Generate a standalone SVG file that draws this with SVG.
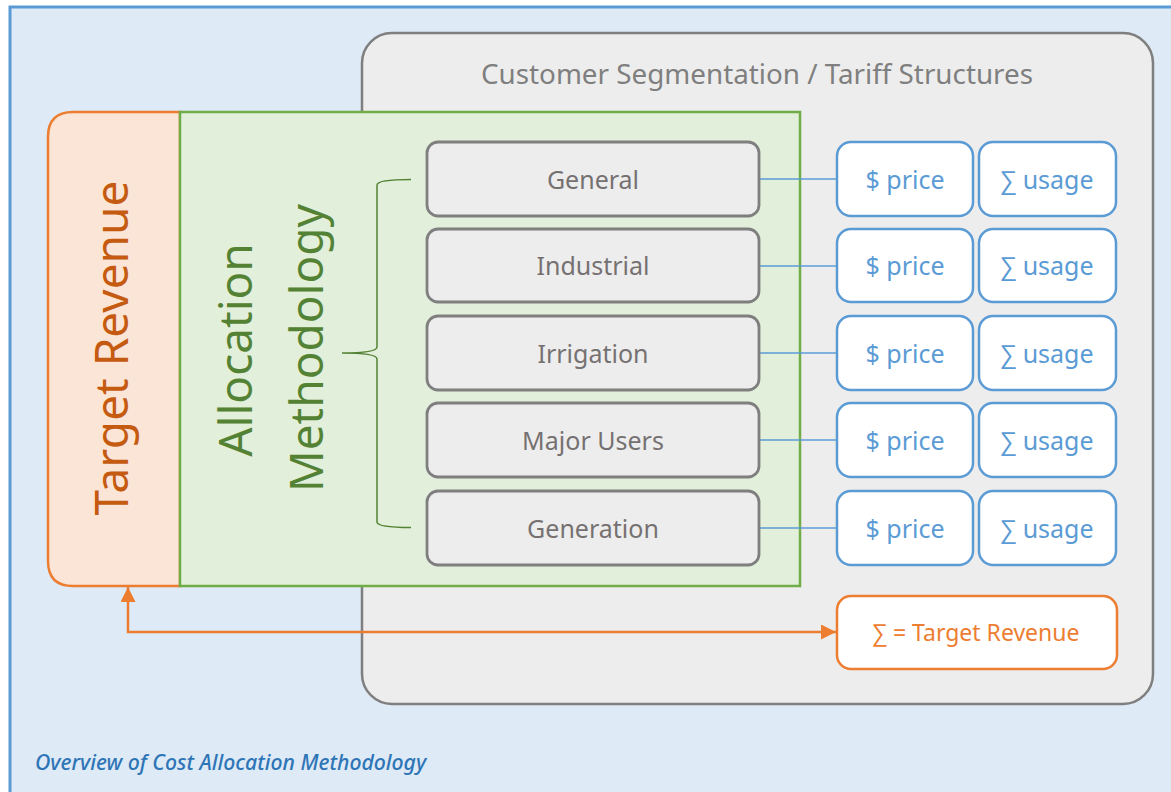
<svg xmlns="http://www.w3.org/2000/svg" width="1171" height="792" viewBox="0 0 1171 792">
<defs>
<style>
.t{font-family:"Noto Sans","Open Sans","Liberation Sans",sans-serif}
.seg{fill:#EDEDED;stroke:#7F7F7F;stroke-width:2.8}
.segt{fill:#767171;font-size:25px;text-anchor:middle}
.bl{fill:#FFFFFF;stroke:#5B9BD5;stroke-width:2.5}
.blt{fill:#5B9BD5;font-size:25px;text-anchor:middle}
.con{stroke:#5B9BD5;stroke-width:1.3;fill:none}
</style>
<marker id="ah" viewBox="0 0 10 10" refX="10" refY="5" markerWidth="6" markerHeight="6" markerUnits="strokeWidth" orient="auto-start-reverse">
<path d="M0,0 L10,5 L0,10 z" fill="#ED7D31"/>
</marker>
</defs>
<g id="frame">
<rect x="10" y="7" width="1175" height="800" fill="#DEEAF6" stroke="#5B9BD5" stroke-width="3"/>
</g>
<g id="customer-segmentation">
<rect x="362" y="33" width="791" height="671" rx="30" ry="30" fill="#EDEDED" stroke="#7F7F7F" stroke-width="2.5"/>
<text class="t" x="757" y="84" font-size="27.8" fill="#7F7F7F" text-anchor="middle">Customer Segmentation / Tariff Structures</text>
</g>
<g id="target-revenue">
<path d="M180,112 L73,112 Q48,112 48,137 L48,561 Q48,586 73,586 L180,586 Z" fill="#FBE5D6" stroke="#ED7D31" stroke-width="2.5"/>
<text class="t" transform="translate(128,348) rotate(-90)" font-size="46" fill="#C55A11" text-anchor="middle">Target Revenue</text>
</g>
<g id="allocation-methodology">
<rect x="180" y="112" width="620" height="474" fill="#E2EFDA" stroke="#70AD47" stroke-width="2.5"/>
<text class="t" transform="translate(252,350) rotate(-90)" font-size="46" fill="#548235" text-anchor="middle">Allocation</text>
<text class="t" transform="translate(323,348) rotate(-90)" font-size="46" fill="#548235" text-anchor="middle">Methodology</text>
<path d="M411,179.5 C390,179.5 377,181 377,185 L377,347 C377,351 365,353 342,353 C365,353 377,355 377,359 L377,522 C377,526 390,527.5 411,527.5" fill="none" stroke="#548235" stroke-width="1.5"/>
</g>
<g id="connectors">
<line class="con" x1="759" y1="179" x2="837" y2="179"/>
<line class="con" x1="759" y1="266" x2="837" y2="266"/>
<line class="con" x1="759" y1="353" x2="837" y2="353"/>
<line class="con" x1="759" y1="440" x2="837" y2="440"/>
<line class="con" x1="759" y1="528" x2="837" y2="528"/>
<polyline points="128,587 128,632 836,632" fill="none" stroke="#ED7D31" stroke-width="2.5" marker-start="url(#ah)" marker-end="url(#ah)"/>
</g>
<g id="general">
<rect class="seg" x="427" y="142" width="332" height="74" rx="11"/>
<text class="t segt" x="593" y="189">General</text>
</g>
<g id="industrial">
<rect class="seg" x="427" y="229" width="332" height="73" rx="11"/>
<text class="t segt" x="593" y="275">Industrial</text>
</g>
<g id="irrigation">
<rect class="seg" x="427" y="316" width="332" height="74" rx="11"/>
<text class="t segt" x="593" y="363">Irrigation</text>
</g>
<g id="major-users">
<rect class="seg" x="427" y="403" width="332" height="74" rx="11"/>
<text class="t segt" x="593" y="450">Major Users</text>
</g>
<g id="generation">
<rect class="seg" x="427" y="491" width="332" height="74" rx="11"/>
<text class="t segt" x="593" y="538">Generation</text>
</g>
<g id="price-1"><rect class="bl" x="837" y="142" width="136" height="74" rx="14"/><text class="t blt" x="905" y="189">$ price</text></g>
<g id="usage-1"><rect class="bl" x="979" y="142" width="137" height="74" rx="14"/><text class="t blt" x="1047" y="189">∑ usage</text></g>
<g id="price-2"><rect class="bl" x="837" y="229" width="136" height="73" rx="14"/><text class="t blt" x="905" y="275">$ price</text></g>
<g id="usage-2"><rect class="bl" x="979" y="229" width="137" height="73" rx="14"/><text class="t blt" x="1047" y="275">∑ usage</text></g>
<g id="price-3"><rect class="bl" x="837" y="316" width="136" height="74" rx="14"/><text class="t blt" x="905" y="363">$ price</text></g>
<g id="usage-3"><rect class="bl" x="979" y="316" width="137" height="74" rx="14"/><text class="t blt" x="1047" y="363">∑ usage</text></g>
<g id="price-4"><rect class="bl" x="837" y="403" width="136" height="74" rx="14"/><text class="t blt" x="905" y="450">$ price</text></g>
<g id="usage-4"><rect class="bl" x="979" y="403" width="137" height="74" rx="14"/><text class="t blt" x="1047" y="450">∑ usage</text></g>
<g id="price-5"><rect class="bl" x="837" y="491" width="136" height="74" rx="14"/><text class="t blt" x="905" y="538">$ price</text></g>
<g id="usage-5"><rect class="bl" x="979" y="491" width="137" height="74" rx="14"/><text class="t blt" x="1047" y="538">∑ usage</text></g>
<g id="sum-target">
<rect x="837" y="596" width="280" height="73" rx="14" fill="#FFFFFF" stroke="#ED7D31" stroke-width="2.5"/>
<text class="t" x="976" y="641" font-size="23" fill="#ED7D31" text-anchor="middle">∑ = Target Revenue</text>
</g>
<g id="caption">
<text class="t" x="35" y="770" font-size="21.2" font-style="italic" font-weight="500" fill="#2E75B6">Overview of Cost Allocation Methodology</text>
</g>
</svg>
